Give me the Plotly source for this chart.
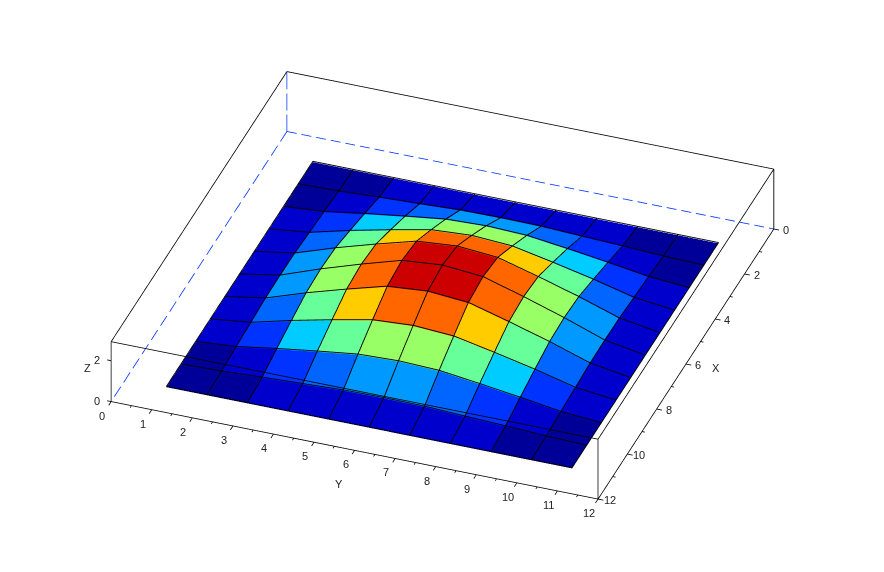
import plotly.graph_objects as go

# grid coordinates
x_grid = [1, 2, 3, 4, 5, 6, 7, 8, 9, 10, 11]
y_grid = [1, 2, 3, 4, 5, 6, 7, 8, 9, 10, 11]

# surface heights (rows: X, columns: Y)
z_rows = [
    [0, 0.00, 0.00, 0.00, 0.00, 0.00, 0.00, 0.00, 0.00, 0.00, 0],
    [0, 0.05, 0.15, 0.23, 0.32, 0.34, 0.32, 0.23, 0.15, 0.05, 0],
    [0, 0.15, 0.45, 0.72, 0.97, 1.04, 0.97, 0.72, 0.45, 0.15, 0],
    [0, 0.23, 0.72, 1.15, 1.55, 1.67, 1.55, 1.15, 0.72, 0.23, 0],
    [0, 0.32, 0.97, 1.55, 2.09, 2.25, 2.09, 1.55, 0.97, 0.32, 0],
    [0, 0.34, 1.04, 1.67, 2.25, 2.42, 2.25, 1.67, 1.04, 0.34, 0],
    [0, 0.32, 0.97, 1.55, 2.09, 2.25, 2.09, 1.55, 0.97, 0.32, 0],
    [0, 0.23, 0.72, 1.15, 1.55, 1.67, 1.55, 1.15, 0.72, 0.23, 0],
    [0, 0.15, 0.45, 0.72, 0.97, 1.04, 0.97, 0.72, 0.45, 0.15, 0],
    [0, 0.05, 0.15, 0.23, 0.32, 0.34, 0.32, 0.23, 0.15, 0.05, 0],
    [0, 0.00, 0.00, 0.00, 0.00, 0.00, 0.00, 0.00, 0.00, 0.00, 0],
]

# colour level of each cell, as seen in the picture
cell_levels = [
    [0, 0, 1, 1, 1, 1, 1, 1, 0, 0],
    [0, 1, 2, 3, 4, 4, 3, 2, 1, 0],
    [1, 2, 5, 6, 7, 7, 6, 5, 2, 1],
    [1, 3, 6, 8, 9, 9, 8, 6, 3, 1],
    [1, 4, 7, 9, 10, 10, 9, 7, 4, 1],
    [1, 4, 7, 9, 10, 10, 9, 7, 4, 1],
    [1, 3, 6, 8, 9, 9, 8, 6, 3, 1],
    [1, 2, 5, 6, 7, 7, 6, 5, 2, 1],
    [0, 1, 2, 3, 4, 4, 3, 2, 1, 0],
    [0, 0, 1, 1, 1, 1, 1, 1, 0, 0],
]
palette = ["#000099", "#0000CC", "#0033FF", "#0066FF", "#0099FF", "#00CCFF",
           "#66FF99", "#99FF66", "#FFCC00", "#FF6600", "#CC0000"]

x_major = [0, 2, 4, 6, 8, 10, 12]
x_minor = [1, 3, 5, 7, 9, 11]
y_major = [0, 1, 2, 3, 4, 5, 6, 7, 8, 9, 10, 11, 12]
y_minor = [0.5, 1.5, 2.5, 3.5, 4.5, 5.5, 6.5, 7.5, 8.5, 9.5, 10.5, 11.5]
z_major = [0, 2]
XMAX, YMAX, ZMAX = 12, 12, 2.93

n = len(x_grid)
vx, vy, vz = [], [], []
for r in range(n):
    for c in range(n):
        vx.append(x_grid[r]); vy.append(y_grid[c]); vz.append(z_rows[r][c])
I, J, K, face = [], [], [], []
for r in range(n - 1):
    for c in range(n - 1):
        a, b = r * n + c, r * n + c + 1
        d, e = (r + 1) * n + c, (r + 1) * n + c + 1
        if (r < 5) == (c < 5):
            I += [a, a]; J += [b, e]; K += [e, d]
        else:
            I += [a, b]; J += [b, e]; K += [d, d]
        face += [palette[cell_levels[r][c]]] * 2

fig = go.Figure()
fig.add_trace(go.Mesh3d(
    x=vx, y=vy, z=vz, i=I, j=J, k=K, facecolor=face, flatshading=True,
    lighting=dict(ambient=1, diffuse=0, specular=0, roughness=1, fresnel=0),
    hoverinfo="skip", showscale=False))

# wireframe
lift = 0.04
wx, wy, wz = [], [], []
for r in range(n):
    for c in range(n):
        wx.append(x_grid[r]); wy.append(y_grid[c]); wz.append(z_rows[r][c] + lift)
    wx.append(None); wy.append(None); wz.append(None)
for c in range(n):
    for r in range(n):
        wx.append(x_grid[r]); wy.append(y_grid[c]); wz.append(z_rows[r][c] + lift)
    wx.append(None); wy.append(None); wz.append(None)
fig.add_trace(go.Scatter3d(x=wx, y=wy, z=wz, mode="lines",
                           line=dict(color="black", width=1.8), hoverinfo="skip"))


def segs(pairs):
    xs, ys, zs = [], [], []
    for p, q in pairs:
        xs += [p[0], q[0], None]; ys += [p[1], q[1], None]; zs += [p[2], q[2], None]
    return xs, ys, zs


# solid box edges
solid = [
    ((0, 0, ZMAX), (XMAX, 0, ZMAX)), ((0, 0, ZMAX), (0, YMAX, ZMAX)),
    ((XMAX, 0, ZMAX), (XMAX, YMAX, ZMAX)), ((0, YMAX, ZMAX), (XMAX, YMAX, ZMAX)),
    ((XMAX, 0, 0), (XMAX, 0, ZMAX)), ((XMAX, YMAX, 0), (XMAX, YMAX, ZMAX)),
    ((0, YMAX, 0), (0, YMAX, ZMAX)),
    ((XMAX, 0, 0), (XMAX, YMAX, 0)), ((0, YMAX, 0), (XMAX, YMAX, 0)),
]
ticks = []
for v in y_major:
    ticks.append(((XMAX, v, 0), (XMAX + 0.17, v, 0)))
for v in y_minor:
    ticks.append(((XMAX, v, 0), (XMAX + 0.09, v, 0)))
for v in x_major:
    ticks.append(((v, YMAX, 0), (v, YMAX + 0.13, 0)))
for v in x_minor:
    ticks.append(((v, YMAX, 0), (v, YMAX + 0.07, 0)))
for v in z_major:
    ticks.append(((XMAX, 0, v), (XMAX, -0.1, v)))
sx, sy, sz = segs(solid + ticks)
fig.add_trace(go.Scatter3d(x=sx, y=sy, z=sz, mode="lines",
                           line=dict(color="black", width=1.6), hoverinfo="skip"))


# hidden box edges: explicit dashes so each edge keeps its own dash length
def dash_pieces(axis_index, length, on, off):
    out = []
    pos = 0.0
    while pos < length:
        p, q = [0.0, 0.0, 0.0], [0.0, 0.0, 0.0]
        p[axis_index] = pos
        q[axis_index] = min(pos + on, length)
        out.append((tuple(p), tuple(q)))
        pos += on + off
    return out


dashed = dash_pieces(0, XMAX, 0.44, 0.19) + dash_pieces(1, YMAX, 0.24, 0.12) + dash_pieces(2, ZMAX, 0.83, 0.2)
dx, dy, dz = segs(dashed)
fig.add_trace(go.Scatter3d(x=dx, y=dy, z=dz, mode="lines",
                           line=dict(color="#0033FF", width=1.6), hoverinfo="skip"))

font = dict(family="Liberation Sans, Arial, sans-serif", size=11, color="#222222")
ann = []
for v in y_major:
    ann.append(dict(x=XMAX, y=v, z=0, text=str(v), showarrow=False, xshift=-9, yshift=-14, font=font))
for v in x_major:
    ann.append(dict(x=v, y=YMAX, z=0, text=str(v), showarrow=False, xshift=12, yshift=-1, font=font))
for v in z_major:
    ann.append(dict(x=XMAX, y=0, z=v, text=str(v), showarrow=False, xshift=-14, yshift=1, font=font))
ann.append(dict(x=6, y=YMAX, z=0, text="X", showarrow=False, xshift=30, yshift=-4, font=font))
ann.append(dict(x=XMAX, y=6, z=0, text="Y", showarrow=False, xshift=-16, yshift=-34, font=font))
ann.append(dict(x=XMAX, y=0, z=1.46, text="Z", showarrow=False, xshift=-24, yshift=4, font=font))

PAD = 0.5
F = 1.81
DIST = 4
scale = (12 + 2 * PAD) / 12 * F
axis = dict(visible=False, showgrid=False, showline=False, zeroline=False, showbackground=False,
            showticklabels=False, ticks="", title="", showspikes=False)
fig.update_layout(
    width=884, height=572, margin=dict(l=0, r=0, t=0, b=0),
    paper_bgcolor="white", showlegend=False,
    scene=dict(
        domain=dict(x=[0, 1], y=[0, 1]),
        xaxis=dict(axis, range=[-PAD, XMAX + PAD]),
        yaxis=dict(axis, range=[-PAD, YMAX + PAD]),
        zaxis=dict(axis, range=[0, ZMAX]),
        aspectmode="manual",
        aspectratio=dict(x=scale, y=scale, z=0.1391 * F),
        camera=dict(projection=dict(type="orthographic"),
                    up=dict(x=0, y=0, z=1),
                    center=dict(x=0.00678, y=0.03041, z=-0.02529),
                    eye=dict(x=0.784 * DIST, y=0.290 * DIST, z=0.5482 * DIST)),
        annotations=ann,
    ),
)
fig.write_html("out.html")
